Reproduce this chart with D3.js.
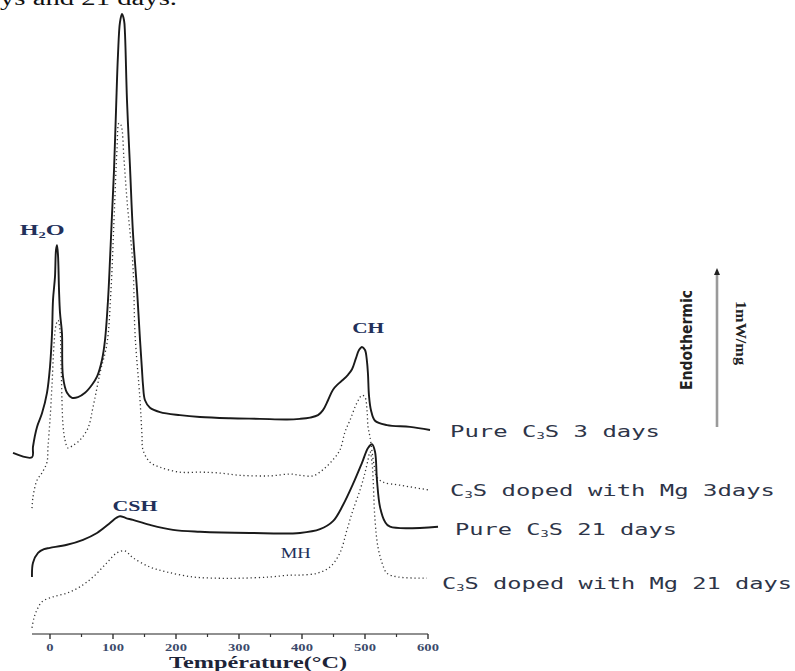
<!DOCTYPE html>
<html>
<head>
<meta charset="utf-8">
<script src="https://cdn.jsdelivr.net/npm/d3@7"></script>
<style>
  body { margin: 0; background: #fff; }
  svg { display: block; }
</style>
</head>
<body>
<script>
// DSC thermograms of hydrated C3S (pure and Mg-doped), heat flow in arbitrary units vs temperature (°C)
const xTicks = [0, 100, 200, 300, 400, 500, 600];
const xMinorTicks = [50, 150, 250, 350, 450, 550];

const seriesNames = ["Pure C₃S 3 days", "C₃S doped with Mg 3days", "Pure C₃S 21 days", "C₃S doped with Mg 21 days"];

// [temperature °C, heat flow (a.u.)]
const pure3days = [
  [-58.7, 29.2], [-28.6, 28.5], [-27.0, 30.2], [-20.6, 33.4], [-12.7, 35.6], [-4.8, 38.9],
  [0, 43.1], [3.2, 48.5], [4.8, 53.9], [7.9, 57.6], [9.5, 61.9], [11.1, 62.7], [12.7, 61.1],
  [14.3, 55.5], [15.9, 51.8], [19.0, 48.5], [20.6, 41.5], [27.0, 38.9], [34.9, 38.1],
  [44.4, 38.2], [55.6, 38.9], [66.7, 40.2], [74.6, 41.5], [82.5, 44.2], [87.3, 47.4],
  [92.1, 53.9], [95.2, 60.3], [98.4, 67.6], [101.6, 74.8], [104.8, 84.5], [107.9, 93.4],
  [111.1, 98.7], [114.3, 100], [117.5, 99.0], [119.0, 96.9], [122.2, 86.1], [127.0, 75.3],
  [131.7, 64.7], [138.1, 55.5], [142.9, 47.4], [146.0, 42.6], [147.6, 40.2], [150.8, 37.7],
  [158.7, 36.5], [174.6, 35.8], [206.3, 35.3], [238.1, 35.0], [285.7, 34.8], [333.3, 34.7],
  [376.2, 34.6], [396.8, 34.7], [412.7, 34.9], [425.4, 35.3], [433.3, 36.1], [441.3, 37.7],
  [449.2, 39.4], [457.1, 40.3], [465.1, 41.0], [473.0, 41.8], [479.4, 42.7], [485.7, 44.5],
  [490.5, 45.8], [495.2, 46.3], [500.0, 45.8], [503.2, 43.9], [504.8, 41.8], [506.3, 38.5],
  [509.5, 36.1], [515.9, 34.4], [534.9, 33.7], [571.4, 33.4], [603.2, 32.9]
];

const doped3days = [
  [-28.6, 20.3], [-27.0, 22.1], [-20.6, 24.8], [-12.7, 26.0], [-4.8, 27.7], [-3.2, 30.2],
  [0, 34.5], [3.2, 40.2], [6.3, 46.6], [9.5, 49.8], [12.7, 50.6], [15.9, 49.0], [17.5, 44.2],
  [19.0, 37.7], [20.6, 33.7], [23.8, 31.3], [28.6, 30.0], [34.9, 30.3], [47.6, 31.3],
  [60.3, 33.2], [68.3, 36.6], [79.4, 42.1], [90.5, 46.9], [96.8, 55.5], [101.6, 66.8],
  [106.3, 78.1], [109.5, 82.4], [112.7, 82.1], [117.5, 76.5], [122.2, 70.0], [131.7, 59.2],
  [134.9, 48.5], [142.9, 37.7], [146.0, 32.1], [147.6, 29.7], [158.7, 27.7], [174.6, 26.9],
  [206.3, 26.1], [238.1, 26.1], [265.1, 26.0], [301.6, 25.6], [349.2, 25.5], [381.0, 25.8],
  [396.8, 25.6], [417.5, 25.5], [433.3, 26.5], [449.2, 28.1], [460.3, 29.7], [468.3, 32.6],
  [476.2, 34.5], [487.3, 37.3], [495.2, 38.5], [500.0, 38.2], [503.2, 36.1], [504.8, 33.4],
  [507.9, 31.8], [514.3, 27.3], [519.0, 25.3], [528.6, 24.5], [555.6, 24.0], [603.2, 23.2]
];

const pure21days = [
  [-28.6, 9.2], [-27.0, 11.5], [-19.0, 13.1], [-9.5, 13.7], [0, 13.9], [27.0, 14.4],
  [52.4, 15.2], [74.6, 16.3], [95.2, 17.9], [104.8, 18.7], [111.1, 19.0], [120.6, 18.7],
  [131.7, 18.4], [158.7, 17.6], [195.2, 16.8], [238.1, 16.5], [317.5, 16.3], [396.8, 16.3],
  [428.6, 16.9], [449.2, 18.2], [465.1, 20.8], [481.0, 24.2], [495.2, 27.6], [504.8, 30.0],
  [511.1, 30.6], [515.9, 29.4], [519.0, 24.8], [523.8, 20.5], [531.7, 18.1], [539.7, 17.3],
  [615.9, 17.3]
];

const doped21days = [
  [-28.6, 1.0], [-25.4, 2.6], [-20.6, 3.9], [-12.7, 5.2], [4.8, 6.0], [27.0, 6.6],
  [47.6, 7.6], [68.3, 9.2], [90.5, 11.5], [106.3, 13.1], [119.0, 13.4], [131.7, 12.3],
  [158.7, 10.8], [185.7, 10.0], [227.0, 9.2], [265.1, 9.0], [301.6, 9.0], [349.2, 9.2],
  [381.0, 9.5], [396.8, 9.5], [423.8, 9.8], [444.4, 10.8], [460.3, 13.1], [471.4, 16.8],
  [481.0, 20.0], [492.1, 23.2], [500.0, 26.0], [504.8, 28.1], [507.9, 29.4], [511.1, 27.7],
  [515.9, 18.4], [520.6, 14.0], [527.0, 11.5], [534.9, 9.8], [552.4, 9.2], [598.4, 9.0]
];

// peak assignment labels, placed at (temperature, heat flow level)
const peakLabelT = [-12.5, 505, 135, 390];
const peakLabelV = [64.4, 48.5, 19.8, 12.2];

const W = 795, H = 671;
const svg = d3.select("body").append("svg").attr("width", W).attr("height", H);

const x = d3.scaleLinear().domain([0, 600]).range([50, 428]);
const y = d3.scaleLinear().domain([0, 100]).range([634, 14]);

// caption fragment at the top edge
svg.append("text")
  .attr("x", 0).attr("y", 5)
  .attr("font-family", "Liberation Serif, serif")
  .attr("font-size", 20)
  .attr("textLength", 177).attr("lengthAdjust", "spacingAndGlyphs")
  .attr("fill", "#111")
  .text("ys and 21 days.");

// x axis
const axisY = y(0);
svg.append("line")
  .attr("x1", x(-28.6)).attr("x2", x(600))
  .attr("y1", axisY).attr("y2", axisY)
  .attr("stroke", "#222").attr("stroke-width", 1.2);
svg.selectAll(".major").data(xTicks).join("line")
  .attr("x1", d => x(d)).attr("x2", d => x(d))
  .attr("y1", axisY).attr("y2", axisY + 5)
  .attr("stroke", "#333").attr("stroke-width", 1.4);
svg.selectAll(".minor").data(xMinorTicks).join("line")
  .attr("x1", d => x(d)).attr("x2", d => x(d))
  .attr("y1", axisY).attr("y2", axisY + 3)
  .attr("stroke", "#333").attr("stroke-width", 1.2);
svg.selectAll(".tl").data(xTicks).join("text")
  .attr("x", d => x(d)).attr("y", axisY + 17)
  .attr("text-anchor", "middle")
  .attr("font-family", "Liberation Serif, serif")
  .attr("font-weight", "bold")
  .attr("font-size", 10.5)
  .attr("textLength", d => String(d).length * 7.3)
  .attr("lengthAdjust", "spacingAndGlyphs")
  .attr("fill", "#3b4a6b")
  .text(d => d);
svg.append("text")
  .attr("x", 258).attr("y", 668)
  .attr("text-anchor", "middle")
  .attr("font-family", "Liberation Serif, serif")
  .attr("font-weight", "bold")
  .attr("font-size", 16)
  .attr("textLength", 178).attr("lengthAdjust", "spacingAndGlyphs")
  .attr("fill", "#1d2438")
  .text("Température(°C)");

// thermogram curves
const line = d3.line()
  .x(d => x(d[0])).y(d => y(d[1]))
  .curve(d3.curveCatmullRom.alpha(0.5));

const series = [
  { data: pure3days, dotted: false },
  { data: doped3days, dotted: true },
  { data: pure21days, dotted: false },
  { data: doped21days, dotted: true }
];
svg.selectAll(".curve").data(series).join("path")
  .attr("d", d => line(d.data))
  .attr("fill", "none")
  .attr("stroke", d => d.dotted ? "#333" : "#1a1a1a")
  .attr("stroke-width", d => d.dotted ? 1.3 : 1.9)
  .attr("stroke-dasharray", d => d.dotted ? "1.2,2.8" : null)
  .attr("stroke-linejoin", "round");

// series names at the right end of each curve
const seriesLabelX = [450, 450, 455, 442];
const seriesLabelLen = [210, 325, 222, 350];
const seriesLabelV = [32.7, 23.2, 16.9, 8.2];
const lbl = svg.selectAll(".sname").data(seriesNames).join("text")
  .attr("x", (d, i) => seriesLabelX[i])
  .attr("y", (d, i) => y(seriesLabelV[i]) + 6)
  .attr("font-family", "DejaVu Sans Mono, monospace")
  .attr("font-size", 15.5)
  .attr("textLength", (d, i) => seriesLabelLen[i])
  .attr("lengthAdjust", "spacingAndGlyphs")
  .attr("fill", "#2e3548");
lbl.each(function(d) {
  const t = d3.select(this);
  const parts = d.split("₃");
  t.append("tspan").text(parts[0]);
  t.append("tspan").attr("font-size", 9).attr("dy", 2).text("3");
  t.append("tspan").attr("dy", -2).text(parts[1]);
});

// peak labels
function peakLabel(i, content, len, bold) {
  const t = svg.append("text")
    .attr("x", x(peakLabelT[i])).attr("y", y(peakLabelV[i]))
    .attr("text-anchor", "middle")
    .attr("font-family", "Liberation Serif, serif")
    .attr("font-weight", bold ? "bold" : "normal")
    .attr("font-size", 15)
    .attr("textLength", len).attr("lengthAdjust", "spacingAndGlyphs")
    .attr("fill", "#22305a");
  content(t);
}
peakLabel(0, t => {
  t.append("tspan").text("H");
  t.append("tspan").attr("font-size", 9).attr("dy", 3).text("2");
  t.append("tspan").attr("dy", -3).text("O");
}, 45, true);
peakLabel(1, t => t.text("CH"), 32, true);
peakLabel(2, t => t.text("CSH"), 45, true);
peakLabel(3, t => t.text("MH"), 30, false);

// heat-flow scale arrow: Endothermic, 1 mW/mg
const arrowX = 717, arrowTop = 268, arrowBottom = 427;
svg.append("line")
  .attr("x1", arrowX).attr("x2", arrowX)
  .attr("y1", arrowBottom).attr("y2", arrowTop + 5)
  .attr("stroke", "#9a9a9a").attr("stroke-width", 2.6);
svg.append("path")
  .attr("d", `M${arrowX - 3},${arrowTop + 7} L${arrowX},${arrowTop} L${arrowX + 3},${arrowTop + 7} Z`)
  .attr("fill", "#222");
svg.append("text")
  .attr("transform", `translate(692,340) rotate(-90)`)
  .attr("text-anchor", "middle")
  .attr("font-family", "Liberation Sans Narrow, DejaVu Sans Condensed, sans-serif")
  .attr("font-weight", "bold")
  .attr("font-size", 15)
  .attr("textLength", 100).attr("lengthAdjust", "spacingAndGlyphs")
  .attr("fill", "#222")
  .text("Endothermic");
svg.append("text")
  .attr("transform", `translate(736,333) rotate(90)`)
  .attr("text-anchor", "middle")
  .attr("font-family", "Liberation Serif, serif")
  .attr("font-weight", "bold")
  .attr("font-size", 14)
  .attr("textLength", 64).attr("lengthAdjust", "spacingAndGlyphs")
  .attr("fill", "#222")
  .text("1mW/mg");
</script>
</body>
</html>
